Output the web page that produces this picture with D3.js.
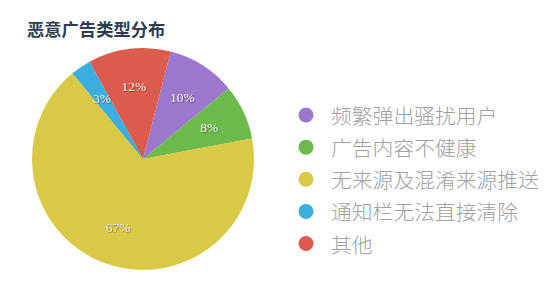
<!DOCTYPE html>
<html><head><meta charset="utf-8">
<script src="https://cdn.jsdelivr.net/npm/d3@7"></script>
<style>
html,body{margin:0;padding:0;background:#fff;}
svg{display:block;}
</style></head>
<body>
<svg id="chart" width="556" height="294"></svg>
<script>
const title = "恶意广告类型分布";
const categories = ["频繁弹出骚扰用户","广告内容不健康","无来源及混淆来源推送","通知栏无法直接清除","其他"];
const values = [10, 8, 67, 3, 12];
const colors = ["#9b77cd","#6dba4c","#d9c944","#3badde","#dc5b4f"];

const svg = d3.select("#chart");
svg.append("text").attr("x", 27).attr("y", 36)
  .attr("font-family", "'Noto Sans CJK SC', sans-serif")
  .attr("font-weight", "bold").attr("font-size", 17.3).attr("fill", "#2e3d4f")
  .text(title);

const cx = 143, cy = 159, r = 111;
const total = d3.sum(values);
const start = 14.5 * Math.PI / 180;
const pie = d3.pie().sort(null).value(d => d).startAngle(start).endAngle(start + 2*Math.PI);
const arcs = pie(values);
const arc = d3.arc().innerRadius(0).outerRadius(r);
const labelArc = d3.arc().innerRadius(0).outerRadius(r * 1.32);

const g = svg.append("g").attr("transform", `translate(${cx},${cy})`);
g.selectAll("path").data(arcs).enter().append("path")
  .attr("d", arc).attr("fill", (d,i) => colors[i]);

const defs = svg.append("defs");
const f = defs.append("filter").attr("id","sh").attr("x","-20%").attr("y","-20%").attr("width","140%").attr("height","140%");
f.append("feDropShadow").attr("dx",0.6).attr("dy",0.6).attr("stdDeviation",0.6).attr("flood-color","#000").attr("flood-opacity",0.55);

g.selectAll("text.pct").data(arcs).enter().append("text")
  .attr("class","pct")
  .attr("transform", d => `translate(${labelArc.centroid(d)})`)
  .attr("text-anchor","middle").attr("dominant-baseline","central")
  .attr("font-family","'Liberation Serif', 'DejaVu Serif', serif")
  .attr("font-size", 13.5).attr("fill", "#f4f0e4")
  .attr("filter","url(#sh)")
  .text(d => Math.round(d.data / total * 100) + "%");

const y = d3.scalePoint().domain(categories).range([115, 243.5]);
const leg = svg.append("g");
leg.selectAll("circle").data(categories).enter().append("circle")
  .attr("cx", 306).attr("cy", d => y(d)).attr("r", 7.5)
  .attr("fill", (d,i) => colors[i]);
leg.selectAll("text").data(categories).enter().append("text")
  .attr("x", 331).attr("y", d => y(d)).attr("dominant-baseline","central")
  .attr("font-family","'Noto Sans CJK SC', sans-serif")
  .attr("font-weight", 300)
  .attr("font-size", 20.8).attr("fill", "#a0a0a0")
  .text(d => d);
</script>
</body></html>
